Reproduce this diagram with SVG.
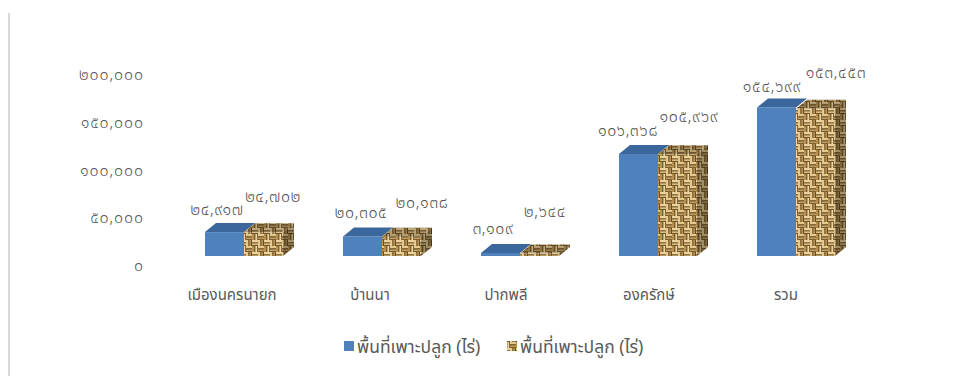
<svg xmlns="http://www.w3.org/2000/svg" width="957" height="376" viewBox="0 0 957 376">
<defs>
<pattern id="weave" width="12" height="12" patternUnits="userSpaceOnUse">
<rect width="12" height="12" fill="#c9a766"/>
<rect x="0" y="0" width="6" height="2.5" fill="#ead39c"/>
<rect x="0" y="3" width="6" height="2.5" fill="#d8bb7c"/>
<rect x="0" y="2.4" width="6" height="0.9" fill="#5e4220"/>
<rect x="0" y="5.3" width="6" height="0.9" fill="#4a3216"/>
<rect x="6" y="0" width="2.4" height="6" fill="#e3c98e"/>
<rect x="9" y="0" width="2.4" height="6" fill="#b8914e"/>
<rect x="8.4" y="0" width="0.9" height="6" fill="#5e4220"/>
<rect x="11.3" y="0" width="0.7" height="6" fill="#3f2a12"/>
<rect x="0" y="6" width="2.4" height="6" fill="#b8914e"/>
<rect x="3" y="6" width="2.4" height="6" fill="#ecd6a0"/>
<rect x="2.4" y="6" width="0.9" height="6" fill="#4a3216"/>
<rect x="5.3" y="6" width="0.7" height="6" fill="#5e4220"/>
<rect x="6" y="6" width="6" height="2.4" fill="#e3c98e"/>
<rect x="6" y="9" width="6" height="2.4" fill="#c29c5a"/>
<rect x="6" y="8.4" width="6" height="0.9" fill="#4a3216"/>
<rect x="6" y="11.3" width="6" height="0.7" fill="#5e4220"/>
</pattern>
</defs>
<style>
.ax{font-family:"Noto Sans Thai","Leelawadee UI",Tahoma,"DejaVu Sans",sans-serif;font-size:16px;font-weight:300;letter-spacing:0.9px;fill:#595959;text-anchor:end}
.dl{font-family:"Noto Sans Thai","Leelawadee UI",Tahoma,"DejaVu Sans",sans-serif;font-size:16px;font-weight:300;letter-spacing:0.6px;fill:#505050;text-anchor:middle}
.cat{font-family:"Noto Sans Thai","Leelawadee UI",Tahoma,"DejaVu Sans",sans-serif;font-size:15px;fill:#595959;text-anchor:middle}
.lg{font-family:"Noto Sans Thai","Leelawadee UI",Tahoma,"DejaVu Sans",sans-serif;font-size:17.5px;fill:#595959}
.bf{fill:#4f81bd}
.bt{fill:#3b679c}
.tf{fill:url(#weave)}
.shade{fill:#000;opacity:0.3}
.shade2{fill:#000;opacity:0.2}
</style>
<rect width="957" height="376" fill="#fff"/>
<line x1="9" y1="13" x2="9" y2="376" stroke="#d9d9d9" stroke-width="2"/>

<g id="y-axis">
<text class="ax" x="144" y="80">๒๐๐,๐๐๐</text>
<text class="ax" x="144" y="128">๑๕๐,๐๐๐</text>
<text class="ax" x="144" y="176">๑๐๐,๐๐๐</text>
<text class="ax" x="144" y="223">๕๐,๐๐๐</text>
<text class="ax" x="144" y="271">๐</text>
</g>

<!-- Group 1: 24917 / 24702 -->
<g id="g1">
<rect class="bf" x="205" y="232.1" width="39" height="23.9"/>
<polygon class="bt" points="205,232.1 216,223.1 255,223.1 244,232.1"/>
<rect class="tf" x="244" y="232.3" width="39" height="23.7"/>
<polygon class="tf" points="244,232.3 255,223.3 294,223.3 283,232.3"/>
<polygon class="shade2" points="244,232.3 255,223.3 294,223.3 283,232.3"/>
<polygon class="tf" points="283,232.3 294,223.3 294,247 283,256"/>
<polygon class="shade" points="283,232.3 294,223.3 294,247 283,256"/>
<text class="dl" x="217" y="215">๒๔,๙๑๗</text>
<text class="dl" x="273" y="202">๒๔,๗๐๒</text>
<text class="cat" x="232" y="300">เมืองนครนายก</text>
</g>

<!-- Group 2: 20305 / 20138 -->
<g id="g2">
<rect class="bf" x="343" y="236.5" width="39" height="19.5"/>
<polygon class="bt" points="343,236.5 354,227.5 393,227.5 382,236.5"/>
<rect class="tf" x="382" y="236.7" width="39" height="19.3"/>
<polygon class="tf" points="382,236.7 393,227.7 432,227.7 421,236.7"/>
<polygon class="shade2" points="382,236.7 393,227.7 432,227.7 421,236.7"/>
<polygon class="tf" points="421,236.7 432,227.7 432,247 421,256"/>
<polygon class="shade" points="421,236.7 432,227.7 432,247 421,256"/>
<text class="dl" x="361" y="218">๒๐,๓๐๕</text>
<text class="dl" x="422" y="208">๒๐,๑๓๘</text>
<text class="cat" x="370" y="300">บ้านนา</text>
</g>

<!-- Group 3: 3109 / 2644 -->
<g id="g3">
<rect class="bf" x="481" y="253" width="39" height="3"/>
<polygon class="bt" points="481,253 492,244 531,244 520,253"/>
<rect class="tf" x="520" y="253.5" width="39" height="2.5"/>
<polygon class="tf" points="520,253.5 531,244.5 570,244.5 559,253.5"/>
<polygon class="shade2" points="520,253.5 531,244.5 570,244.5 559,253.5"/>
<polygon class="tf" points="559,253.5 570,244.5 570,247 559,256"/>
<polygon class="shade" points="559,253.5 570,244.5 570,247 559,256"/>
<text class="dl" x="493" y="234">๓,๑๐๙</text>
<text class="dl" x="545" y="217">๒,๖๔๔</text>
<text class="cat" x="506" y="300">ปากพลี</text>
</g>

<!-- Group 4: 106368 / 105969 -->
<g id="g4">
<rect class="bf" x="619" y="153.9" width="39" height="102.1"/>
<polygon class="bt" points="619,153.9 630,144.9 669,144.9 658,153.9"/>
<rect class="tf" x="658" y="154.3" width="39" height="101.7"/>
<polygon class="tf" points="658,154.3 669,145.3 708,145.3 697,154.3"/>
<polygon class="shade2" points="658,154.3 669,145.3 708,145.3 697,154.3"/>
<polygon class="tf" points="697,154.3 708,145.3 708,247 697,256"/>
<polygon class="shade" points="697,154.3 708,145.3 708,247 697,256"/>
<text class="dl" x="628" y="136">๑๐๖,๓๖๘</text>
<text class="dl" x="689" y="122">๑๐๕,๙๖๙</text>
<text class="cat" x="649" y="300">องครักษ์</text>
</g>

<!-- Group 5: 154699 / 153453 -->
<g id="g5">
<rect class="bf" x="757" y="107.5" width="39" height="148.5"/>
<polygon class="bt" points="757,107.5 768,98.5 807,98.5 796,107.5"/>
<rect class="tf" x="796" y="108.7" width="39" height="147.3"/>
<polygon class="tf" points="796,108.7 807,99.7 846,99.7 835,108.7"/>
<polygon class="shade2" points="796,108.7 807,99.7 846,99.7 835,108.7"/>
<polygon class="tf" points="835,108.7 846,99.7 846,247 835,256"/>
<polygon class="shade" points="835,108.7 846,99.7 846,247 835,256"/>
<text class="dl" x="772" y="92">๑๕๔,๖๙๙</text>
<text class="dl" x="836" y="78">๑๕๓,๔๕๓</text>
<text class="cat" x="786" y="300">รวม</text>
</g>

<g id="legend">
<rect x="344" y="341" width="10" height="10" fill="#4f81bd"/>
<text class="lg" x="357" y="353">พื้นที่เพาะปลูก (ไร่)</text>
<rect x="507" y="341" width="10" height="10" fill="url(#weave)"/>
<text class="lg" x="520" y="353">พื้นที่เพาะปลูก (ไร่)</text>
</g>
</svg>
